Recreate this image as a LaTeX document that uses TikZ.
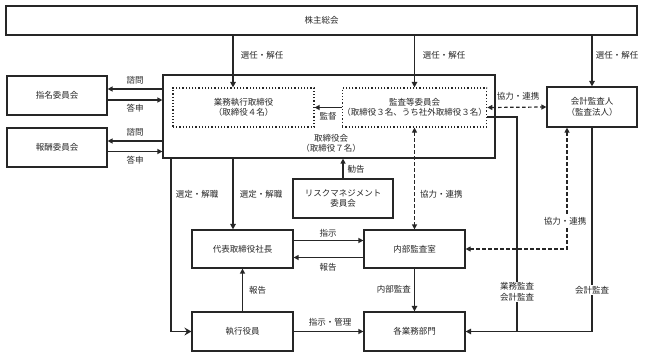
\documentclass[tikz,border=0pt]{standalone}
\usepackage{fontspec}
\setmainfont{Noto Sans CJK JP}
\usetikzlibrary{arrows.meta}
\begin{document}
\begin{tikzpicture}[x=1pt,y=-1pt,
  font=\fontsize{8.5}{10.5}\selectfont,
  every node/.style={text=black!85},
  box/.style={draw=black!85, line width=1.2pt, inner sep=0pt, align=center},
  dotbox/.style={draw=black!85, line width=1.2pt, dotted, inner sep=0pt, align=center},
  lbl/.style={inner sep=1pt, align=center},
  wlbl/.style={inner sep=1pt, align=center, fill=white},
  conn/.style={draw=black!85, line width=1.5pt, -{Triangle[length=5pt,width=5pt]}},
  heavy/.style={draw=black!85, line width=1.9pt, -{Triangle[length=5.5pt,width=5.5pt]}},
  plainline/.style={draw=black!85, line width=1.9pt},
  dline/.style={draw=black!85, line width=1.2pt, dash pattern=on 3.5pt off 2.5pt,
     {Triangle[length=5pt,width=5pt]}-{Triangle[length=5pt,width=5pt]}}
]
\useasboundingbox (0,0) rectangle (648,356);

% boxes
\node[box, minimum width=631pt, minimum height=29pt] (agm) at (321.5,20.5) {株主総会};
\node[box, minimum width=100pt, minimum height=39pt] (shimei) at (57,95.5) {指名委員会};
\node[box, minimum width=100pt, minimum height=39pt] (hoshu) at (57,147.5) {報酬委員会};
\node[box, minimum width=332pt, minimum height=83pt] (bod) at (329,116.5) {};
\node[lbl] (bodlbl) at (331,143.5) {取締役会\\（取締役７名）};
\node[dotbox, minimum width=141pt, minimum height=39pt] (gyomu) at (243.5,107.5) {業務執行取締役\\（取締役４名）};
\node[dotbox, minimum width=141pt, minimum height=39pt] (kansa) at (414.5,107.5) {監査等委員会\\（取締役３名、うち社外取締役３名）};
\node[box, minimum width=90pt, minimum height=40pt] (kaikei) at (592,107) {会計監査人\\（監査法人）};
\node[box, minimum width=100pt, minimum height=39pt] (risk) at (343,198.5) {リスクマネジメント\\委員会};
\node[box, minimum width=101pt, minimum height=38pt] (daihyo) at (242.5,249) {代表取締役社長};
\node[box, minimum width=101pt, minimum height=38pt] (naibu) at (414.5,249) {内部監査室};
\node[box, minimum width=101pt, minimum height=39pt] (shikko) at (242.5,331.5) {執行役員};
\node[box, minimum width=101pt, minimum height=39pt] (kakubu) at (414.5,331.5) {各業務部門};

% helper coordinates
\coordinate (x233) at (233,0);
\coordinate (x171) at (171,0);
\coordinate (x517) at (517,0);
\path (kansa.east) ++(0,9.5) coordinate (kr);
\path (kaikei.south) ++(-25,0) coordinate (kd);
\path (shimei.east) ++(0,-6.5) coordinate (s1);
\path (shimei.east) ++(0,4.5) coordinate (s2);
\path (hoshu.east) ++(0,-6.5) coordinate (h1);
\path (hoshu.east) ++(0,4) coordinate (h2);
\path (daihyo.east) ++(0,-8.5) coordinate (d1);
\path (daihyo.east) ++(0,8.5) coordinate (d2);

% election arrows
\draw[heavy] (agm.south -| x233) -- (gyomu.north -| x233);
\draw[heavy] (agm.south -| kansa.north) -- (kansa.north);
\draw[heavy] (agm.south -| kaikei.north) -- (kaikei.north);
\node[lbl] (sn1) at (262,55) {選任・解任};
\node[lbl] (sn2) at (444,55) {選任・解任};
\node[lbl] (sn3) at (617,55) {選任・解任};

% committees
\draw[conn] (bod.west |- s1) -- (s1);
\draw[conn] (s2) -- (bod.west |- s2);
\draw[conn] (bod.west |- h1) -- (h1);
\draw[conn] (h2) -- (bod.west |- h2);
\node[lbl] (sm1) at (135,80) {諮問};
\node[lbl] (tm1) at (135,108.5) {答申};
\node[lbl] (sm2) at (135,132) {諮問};
\node[lbl] (tm2) at (135,160.5) {答申};

% supervision
\draw[conn] (kansa.west) -- (gyomu.east);
\node[lbl] (kantoku) at (328,116.5) {監督};

% cooperation kansa <-> kaikei
\draw[dline] (kansa.east) -- (kaikei.west);
\node[lbl] (kr1) at (518,96) {協力・連携};

% appointment lines
\draw[plainline, -{Stealth[length=7pt,width=8pt,inset=2.5pt]}] (bod.south -| x171) -- (x171 |- shikko.west) -- (shikko.west);
\draw[heavy] (bod.south -| x233) -- (daihyo.north -| x233);
\node[lbl] (sk1) at (197,194) {選定・解職};
\node[lbl] (sk2) at (261,194) {選定・解職};

% risk
\draw[conn] (risk.north) -- (risk.north |- bod.south);
\node[lbl] (kankoku) at (356,169) {勧告};

% kansa <-> naibu
\draw[dline] (kansa.south) -- (naibu.north);
\node[lbl, anchor=west] (kr2) at (419,194) {協力・連携};

% kaikei <-> naibu
\draw[dline] (kd) -- (kd |- naibu.east) -- (naibu.east);
\node[wlbl] (kr3) at (565,221) {協力・連携};

% audits
\draw[heavy] (kr) -- (kr -| x517) -- (x517 |- kakubu.east) -- (kakubu.east);
\draw[plainline] (kaikei.south) -- (kaikei.south |- kakubu.east) -- (x517 |- kakubu.east);
\node[wlbl] (ga) at (517,292) {業務監査\\会計監査};
\node[wlbl] (ka) at (592,290) {会計監査};

% president / internal audit
\draw[conn] (d1) -- (naibu.west |- d1);
\draw[conn] (naibu.west |- d2) -- (d2);
\node[lbl] (shiji) at (328,233) {指示};
\node[lbl] (hokoku1) at (328,267) {報告};
\draw[conn] (shikko.north) -- (daihyo.south);
\node[lbl, anchor=west] (hokoku2) at (248,290) {報告};
\draw[heavy] (naibu.south) -- (kakubu.north);
\node[lbl, anchor=east] (naibukansa) at (412,289) {内部監査};
\draw[conn] (shikko.east) -- (kakubu.west);
\node[lbl] (shijikanri) at (330,322) {指示・管理};
\end{tikzpicture}
\end{document}
